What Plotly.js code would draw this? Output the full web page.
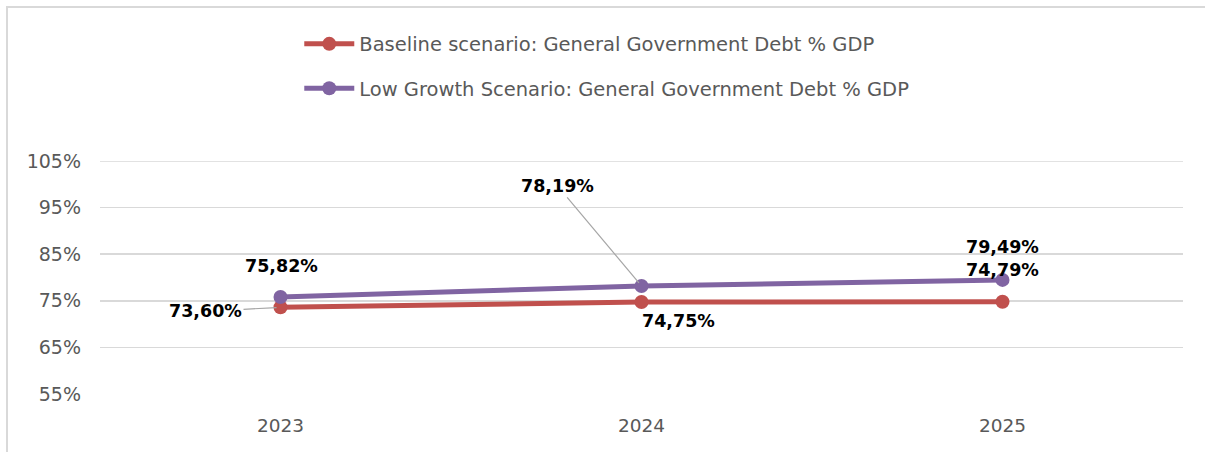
<!DOCTYPE html>
<html>
<head>
<meta charset="utf-8">
<script src="https://cdn.plot.ly/plotly-3.0.1.min.js"></script>
<style>
  html, body { margin: 0; padding: 0; background: #fff; }
  #frame { position: absolute; left: 6px; top: 6px; width: 1210px; height: 460px; border: 2px solid #d9d9d9; box-sizing: border-box; }
  #chart { position: absolute; left: 0; top: 0; width: 1205px; height: 452px; }
</style>
</head>
<body>
<div id="frame"></div>
<div id="chart"></div>
<script>
// ---- data ----
const years = ['2023', '2024', '2025'];
const baselineName = 'Baseline scenario: General Government Debt % GDP';
const lowGrowthName = 'Low Growth Scenario: General Government Debt % GDP';
const baselineDebt = [0.7360, 0.7475, 0.7479];
const lowGrowthDebt = [0.7582, 0.7819, 0.7949];
const yTicks = [0.55, 0.65, 0.75, 0.85, 0.95, 1.05];

// ---- label placement (pixels, relative to the point) ----
const baselineLabelPos = [
  {arrow: true, ax: -75, ay: 4},
  {arrow: false, dx: 37, dy: -19},
  {arrow: false, dx: 0, dy: 32}
];
const lowGrowthLabelPos = [
  {arrow: false, dx: 1, dy: 31},
  {arrow: true, ax: -84, ay: -100},
  {arrow: false, dx: 0, dy: 33}
];

const fmt = v => (v * 100).toFixed(2).replace('.', ',') + '%';
const FONT = 'DejaVu Sans, Noto Sans, sans-serif';
const RED = '#C0504D';
const PURPLE = '#8064A2';
const GRID = '#d9d9d9';

function makeLabels(ys, pos) {
  return ys.map((v, i) => {
    const p = pos[i];
    const a = {
      x: i, y: v, xref: 'x', yref: 'y',
      text: '<b>' + fmt(v) + '</b>',
      font: {family: FONT, size: 17.5, color: '#000000'},
      showarrow: p.arrow
    };
    if (p.arrow) {
      a.ax = p.ax; a.ay = p.ay;
      a.arrowhead = 0; a.arrowwidth = 1.2; a.arrowcolor = '#a6a6a6';
      a.standoff = 4;
    } else {
      a.xshift = p.dx; a.yshift = p.dy;
    }
    return a;
  });
}

const traces = [
  {
    x: years, y: baselineDebt, name: baselineName, type: 'scatter', mode: 'lines+markers',
    line: {color: RED, width: 5}, marker: {color: RED, size: 14},
    legendgroup: 'a', cliponaxis: false
  },
  {
    x: years, y: lowGrowthDebt, name: lowGrowthName, type: 'scatter', mode: 'lines+markers',
    line: {color: PURPLE, width: 5}, marker: {color: PURPLE, size: 14},
    legendgroup: 'b', cliponaxis: false
  }
];

const layout = {
  width: 1205, height: 452,
  margin: {l: 100, r: 22, t: 161, b: 58, autoexpand: false},
  paper_bgcolor: 'rgba(0,0,0,0)', plot_bgcolor: 'rgba(0,0,0,0)',
  font: {family: FONT, color: '#595959'},
  showlegend: true,
  legend: {
    x: 0.184, xanchor: 'left', y: 1.585, yanchor: 'top',
    orientation: 'v', traceorder: 'grouped', tracegroupgap: 16,
    itemwidth: 50, bgcolor: 'rgba(0,0,0,0)',
    font: {family: FONT, size: 19.5, color: '#595959'}
  },
  xaxis: {
    type: 'category', range: [-0.5, 2.5], showgrid: false, zeroline: false,
    showline: false, ticks: '', ticklabelstandoff: 18,
    tickfont: {family: FONT, size: 18.5, color: '#595959'}
  },
  yaxis: {
    range: [0.55, 1.05], tickvals: yTicks, tickformat: '.0%',
    showgrid: true, gridcolor: GRID, gridwidth: 1.5, zeroline: false,
    showline: false, ticks: '', ticklabelstandoff: 18,
    tickfont: {family: FONT, size: 19, color: '#595959'}
  },
  shapes: [{
    type: 'line', xref: 'paper', yref: 'y', x0: 0, x1: 1,
    y0: yTicks[yTicks.length - 1], y1: yTicks[yTicks.length - 1],
    line: {color: GRID, width: 1.5}, layer: 'below'
  }],
  annotations: makeLabels(baselineDebt, baselineLabelPos)
    .concat(makeLabels(lowGrowthDebt, lowGrowthLabelPos))
};

Plotly.newPlot('chart', traces, layout, {displayModeBar: false, staticPlot: true});
</script>
</body>
</html>
